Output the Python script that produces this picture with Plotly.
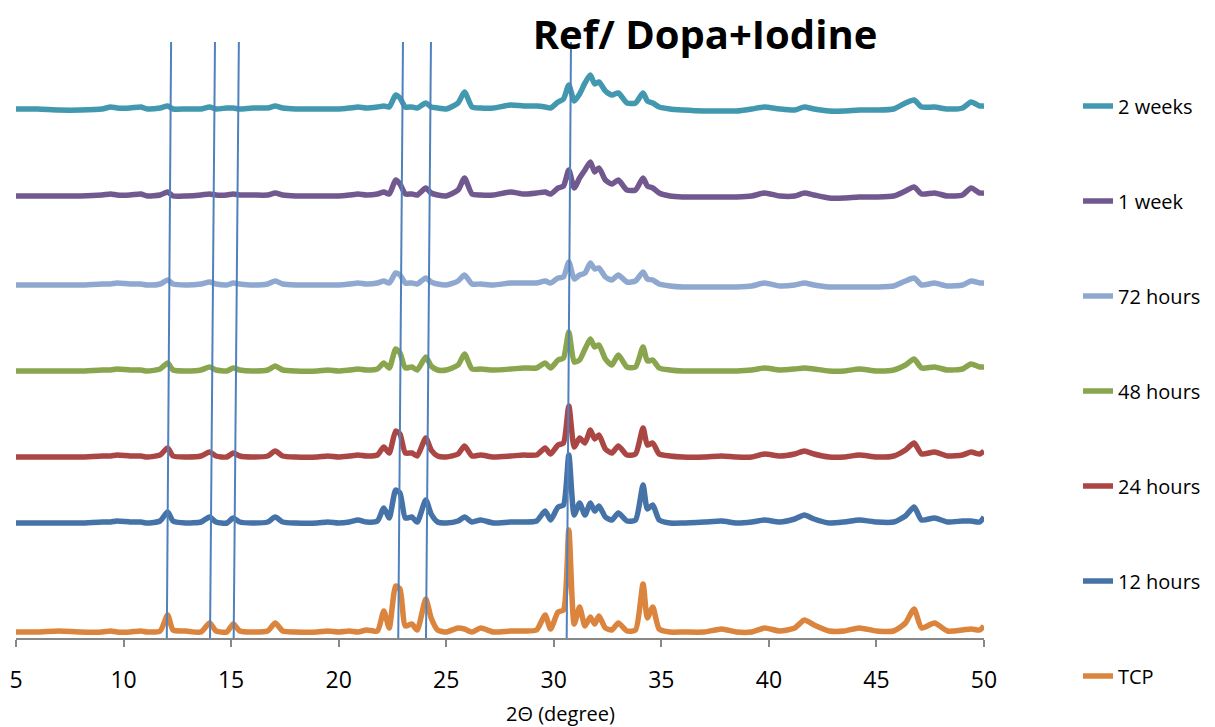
import plotly.graph_objects as go

# 2-theta grid (degree)
TWO_THETA = [5.0, 6.0, 7.0, 8.0, 9.0,
             9.4, 9.7, 10.3, 10.8, 11.1,
             11.7, 12.05, 12.3, 12.9, 13.6,
             14.0, 14.3, 14.8, 15.1, 15.4,
             16.0, 16.7, 17.05, 17.4, 18.0,
             19.0, 19.5, 20.0, 20.5, 20.9,
             21.3, 21.8, 22.1, 22.35, 22.65,
             22.85, 23.1, 23.4, 23.65, 24.05,
             24.3, 24.6, 25.0, 25.55, 25.85, 26.2,
             26.6, 27.2, 28.0, 28.6, 29.2,
             29.6, 29.85, 30.2, 30.45, 30.7,
             30.95, 31.2, 31.45, 31.7, 31.9,
             32.1, 32.4, 32.7, 33.0, 33.4,
             33.8, 34.15, 34.35, 34.6, 34.9,
             35.4, 36.0, 37.0, 37.8, 38.5,
             39.2, 39.8, 40.5, 41.2, 41.65,
             42.1, 42.8, 43.5, 44.2, 45.0,
             45.8, 46.35, 46.75, 47.1, 47.7,
             48.3, 49.0, 49.4, 49.8, 50.0]

# relative intensities (a.u.)
TCP = [0, 0, 1, 0, 0,
       1, 0, 0, 1, 0,
       1, 17, 2, 1, 0,
       9, 1, 0, 8, 1,
       0, 1, 9, 1, 0,
       0, 1, 0, 1, 0,
       2, 1, 21, 4, 46,
       43, 6, 8, 2, 33,
       14, 2, 0, 4, 3, 0,
       4, 0, 1, 1, 2,
       17, 3, 20, 22, 102,
       8, 25, 6, 15, 8,
       16, 4, 2, 9, 1,
       2, 48, 14, 25, 3,
       0, 0, 0, 3, 0,
       0, 4, 1, 4, 12,
       7, 1, 1, 4, 1,
       1, 9, 23, 4, 9,
       1, 2, 3, 2, 6]

H12 = [0, 0, 0, 0, 1,
       1, 2, 1, 1, 0,
       2, 11, 2, 0, 1,
       6, 1, 0, 5, 1,
       0, 1, 6, 1, 0,
       0, 1, 0, 1, 3,
       1, 2, 15, 5, 33,
       30, 5, 6, 1, 23,
       9, 1, 0, 2, 6, 1,
       3, 0, 1, 1, 2,
       12, 3, 16, 18, 68,
       8, 20, 8, 20, 12,
       17, 6, 3, 10, 2,
       3, 38, 14, 18, 3,
       0, 0, 1, 2, 0,
       1, 3, 1, 4, 8,
       4, 0, 1, 3, 1,
       1, 7, 16, 3, 5,
       1, 2, 2, 1, 6]

H24 = [0, 0, 0, 0, 1,
       1, 2, 1, 1, 0,
       2, 9, 1, 0, 1,
       5, 1, 0, 4, 1,
       0, 1, 6, 1, 0,
       0, 1, 0, 1, 2,
       1, 2, 10, 4, 26,
       23, 4, 4, 1, 19,
       7, 1, 0, 3, 11, 1,
       2, 0, 1, 2, 2,
       9, 3, 12, 14, 51,
       10, 19, 14, 27, 18,
       22, 8, 4, 11, 2,
       3, 29, 12, 14, 3,
       1, 0, 0, 1, 0,
       0, 3, 1, 3, 6,
       3, 0, 0, 2, 0,
       1, 7, 14, 3, 5,
       1, 2, 5, 3, 6]

H48 = [0, 0, 0, 0, 1,
       1, 2, 1, 1, 0,
       2, 8, 1, 0, 1,
       4, 1, 0, 3, 1,
       0, 1, 5, 1, 0,
       0, 1, 0, 1, 2,
       1, 2, 8, 3, 22,
       18, 3, 4, 1, 14,
       5, 1, 1, 6, 17, 2,
       2, 1, 2, 3, 3,
       8, 3, 11, 13, 39,
       9, 11, 22, 32, 24,
       26, 12, 6, 16, 4,
       4, 24, 10, 11, 3,
       1, 0, 0, 0, 0,
       1, 3, 1, 2, 3,
       2, 0, 0, 2, 0,
       1, 6, 12, 3, 4,
       1, 2, 7, 4, 4]

H72 = [0, 0, 0, 0, 1,
       1, 2, 1, 1, 0,
       1, 5, 1, 0, 1,
       3, 1, 0, 2, 1,
       0, 1, 4, 1, 0,
       0, 0, 0, 1, 2,
       1, 2, 4, 2, 12,
       10, 2, 2, 1, 7,
       3, 1, 0, 4, 10, 1,
       1, 0, 2, 2, 2,
       4, 2, 7, 8, 23,
       6, 10, 12, 22, 16,
       17, 8, 5, 10, 3,
       4, 13, 6, 5, 1,
       -1, -2, -2, -2, -2,
       -1, 2, -1, 0, 2,
       0, -2, -2, -2, -2,
       -1, 4, 7, 0, 2,
       -1, 0, 4, 2, 2]

W1 = [0, 0, 0, 0, 1,
      2, 1, 1, 2, 0,
      1, 4, 0, 0, 1,
      2, 1, 1, 2, 1,
      1, 1, 3, 1, 0,
      0, 0, 0, 1, 2,
      1, 2, 4, 2, 16,
      12, 2, 2, 1, 8,
      3, 1, 0, 6, 18, 2,
      1, 1, 4, 2, 3,
      4, 2, 8, 10, 26,
      8, 18, 26, 34, 24,
      28, 16, 12, 16, 6,
      6, 18, 10, 8, 3,
      0, -1, -1, -1, -1,
      0, 3, 0, 0, 3,
      1, -2, -2, -1, -1,
      0, 5, 9, 2, 3,
      0, 1, 8, 3, 3]

W2 = [0, 0, -1, -1, 0,
      2, 1, 1, 2, 0,
      1, 3, 0, 0, 0,
      2, 0, 1, 1, 0,
      1, 1, 3, 1, 0,
      0, 0, 0, 1, 2,
      1, 2, 3, 2, 14,
      11, 2, 2, 1, 6,
      2, 1, 0, 6, 17, 2,
      1, 1, 4, 3, 3,
      2, 1, 7, 10, 24,
      8, 15, 26, 34, 25,
      27, 18, 14, 16, 6,
      6, 16, 8, 6, 2,
      0, -1, -2, -2, -2,
      0, 2, 0, -1, 2,
      0, -2, -2, -1, -1,
      0, 6, 9, 2, 2,
      0, 1, 7, 3, 3]

# listed top (legend first) to bottom
SERIES_NAMES = ["2 weeks", "1 week", "72 hours", "48 hours", "24 hours", "12 hours", "TCP"]
SERIES_DATA = [W2, W1, H72, H48, H24, H12, TCP]
OFFSETS = [529, 442, 353, 267, 181, 115, 6]
COLORS = ["#4198AF", "#71588F", "#8FA8CF", "#89A54E", "#AA4643", "#4572A7", "#DB843D"]

# reference peak marker lines (2-theta at bottom and at top)
REF_LINE_BOTTOM = [12.01, 14.02, 15.12, 22.77, 24.06, 30.60]
REF_LINE_TOP = [12.21, 14.25, 15.36, 22.99, 24.29, 30.80]
REF_LINE_TOP_Y = 596
Y_MAX = 608

X_TICKS = [5, 10, 15, 20, 25, 30, 35, 40, 45, 50]

for d in SERIES_DATA:
    assert len(d) == len(TWO_THETA), len(d)

FONT = "Open Sans, Lato, sans-serif"

fig = go.Figure()
for name, data, off, col in zip(SERIES_NAMES, SERIES_DATA, OFFSETS, COLORS):
    fig.add_trace(go.Scatter(
        x=TWO_THETA, y=[v + off for v in data], mode="lines", name=name,
        legendgroup=name,
        line=dict(color=col, width=5.5, shape="spline", smoothing=0.6),
    ))

for xb, xt in zip(REF_LINE_BOTTOM, REF_LINE_TOP):
    fig.add_shape(type="line", xref="x", yref="y", x0=xb, y0=0, x1=xt, y1=REF_LINE_TOP_Y,
                  line=dict(color="#4F81BD", width=2))

# axis title (placed right of centre as in the original)
fig.add_annotation(text="2Θ (degree)", xref="paper", yref="paper",
                   x=(560 - 16) / 968, y=(638 - 713) / 608, xanchor="center", yanchor="middle",
                   showarrow=False, font=dict(size=20, color="black", family=FONT))

fig.update_layout(
    width=1215, height=727,
    margin=dict(l=16, r=231, t=30, b=89, autoexpand=False),
    paper_bgcolor="white", plot_bgcolor="white",
    font=dict(family=FONT, color="black", size=20),
    title=dict(text="<b>Ref/ Dopa+Iodine</b>", x=(705 - 16) / 968, xref="paper", xanchor="center",
               y=1 - 35 / 727, yref="container", yanchor="middle",
               font=dict(size=40, color="black", family=FONT)),
    showlegend=True,
    legend=dict(x=(1078 - 16) / 968, xanchor="left", y=1 - (86.5 - 30) / 608, yanchor="top",
                traceorder="grouped", tracegroupgap=66, maxheight=680,
                font=dict(size=20, color="black", family=FONT), bgcolor="rgba(0,0,0,0)"),
    xaxis=dict(range=[5, 50], tickvals=X_TICKS, showgrid=False, zeroline=False,
               showline=True, linecolor="#888888", linewidth=1.5,
               ticks="outside", ticklen=7, tickcolor="#888888", tickwidth=1.5,
               ticklabelstandoff=14, automargin=False,
               tickfont=dict(size=23, color="black", family=FONT)),
    yaxis=dict(range=[0, Y_MAX], visible=False, showgrid=False, zeroline=False, automargin=False),
)

fig.write_html("out.html")
